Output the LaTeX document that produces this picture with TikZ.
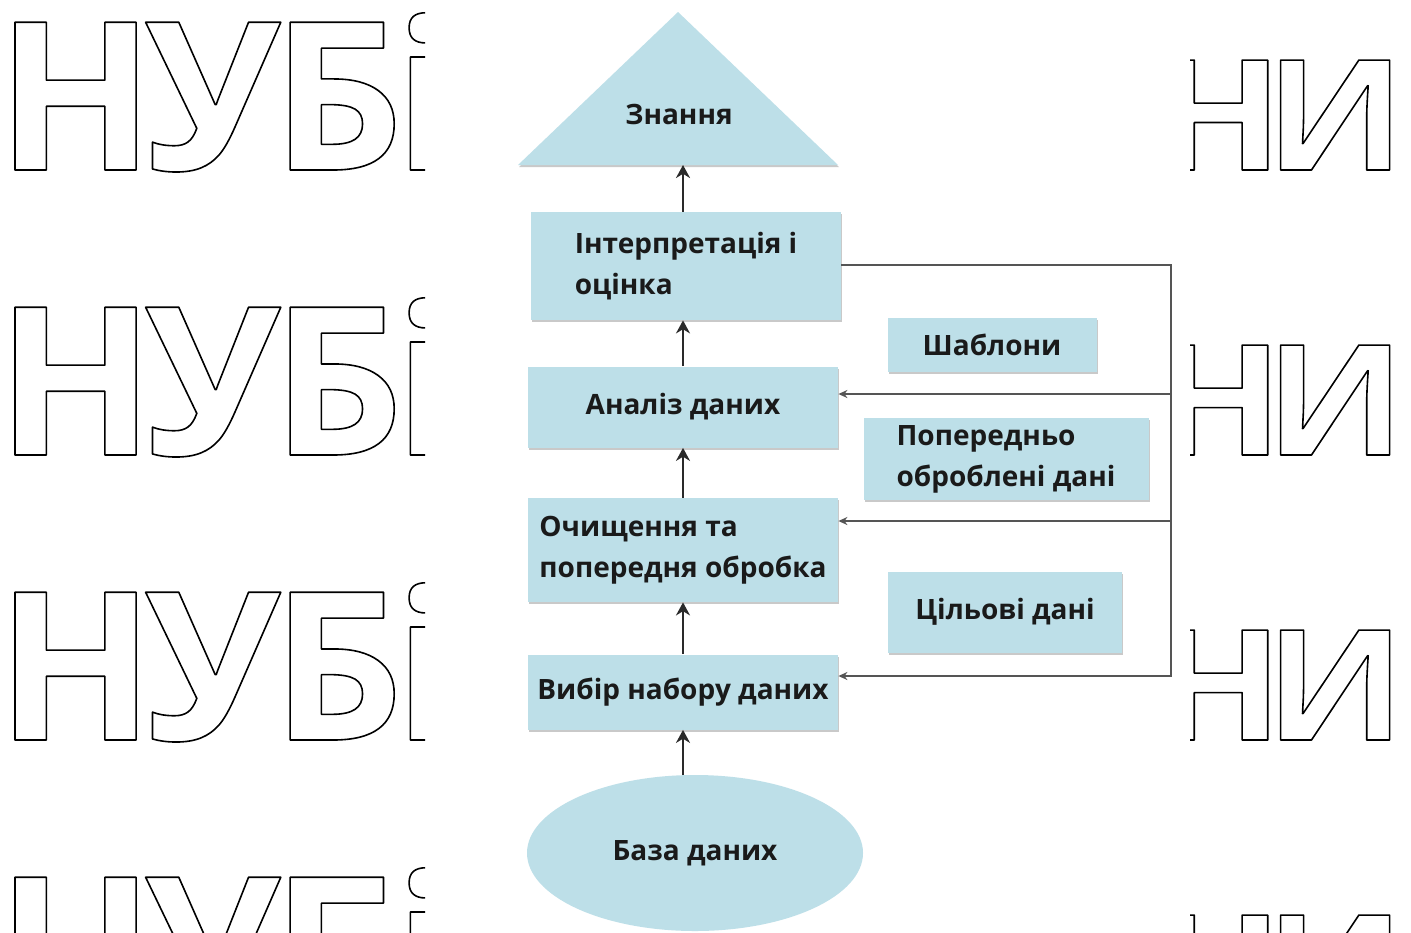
\documentclass[tikz,border=0pt]{standalone}
\usepackage{fontspec}
\setmainfont{Open Sans}
\newfontfamily\markfont{Open Sans}[LetterSpace=-4.5]
\newfontfamily\markwide{Open Sans}[FakeStretch=1.1,LetterSpace=-11.5]
\usetikzlibrary{arrows.meta,shapes.geometric,shadows}
\definecolor{boxblue}{HTML}{BDDFE8}
\definecolor{ink}{HTML}{1A1A1A}
\definecolor{arrowink}{HTML}{2A2A2A}
\definecolor{wire}{HTML}{555555}
% outlined (stroked, unfilled) glyphs with round joins
\newcommand\hollow[1]{\special{pdf:literal direct 1 Tr 0.8 w 1 j 1 J}#1\special{pdf:literal direct 0 Tr}}
\tikzset{
  stage/.style={rectangle, fill=boxblue, inner sep=0pt, text=ink,
    font=\bfseries\fontsize{14}{20.5}\selectfont,
    drop shadow={shadow xshift=0.6pt, shadow yshift=-1.2pt, opacity=0.35, fill=black!60}},
  upflow/.style={draw=arrowink, line width=1.4pt, -{Stealth[length=6.5pt,width=7pt]}},
  feedback/.style={draw=wire, line width=1pt},
  feedarrow/.style={feedback, -{Stealth[length=4.5pt,width=4pt]}},
  wm/.style={inner sep=0pt, text=black}
}
\begin{document}
\begin{tikzpicture}[x=0.5pt,y=-0.5pt]
\fill[white] (0,0) rectangle (1411,932);
\useasboundingbox (0,0) rectangle (1411,932);

% background lettering, left column
\begin{scope}
  \clip (0,0) rectangle (425,932);
  \foreach \b [count=\i] in {170,455,740,1025}
    \node[wm, anchor=base west] (wl\i) at (-4,\b)
      {\markfont\bfseries\fontsize{103.5}{110}\selectfont\hollow{НУБіП}};
\end{scope}
% background lettering, right column
\begin{scope}
  \clip (1190,0) rectangle (1411,932);
  \foreach \b [count=\i] in {170,455,740,1025}
    \node[wm, anchor=base west] (wr\i) at (1153,\b)
      {\markwide\bfseries\fontsize{77}{80}\selectfont\hollow{НИ}};
\end{scope}

% knowledge triangle
\fill[black!60, opacity=0.35] (679,14) -- (839,167) -- (519,167) -- cycle;
\fill[boxblue] (678,12) -- (838,165) -- (518,165) -- cycle;
\coordinate (tribase) at (683,165);
\node[text=ink, font=\bfseries\fontsize{14}{20.5}\selectfont] (know) at (679,114) {Знання};

% process chain (sizes in pt; one unit of the grid is 0.5pt)
\node[stage, minimum width=155pt, minimum height=54pt, align=left] (interp) at (686,266)
  {Інтерпретація і\\оцінка};
\node[stage, minimum width=155pt, minimum height=40.5pt] (analiz) at (683,407) {Аналіз даних};
\node[stage, minimum width=155pt, minimum height=52pt, align=left] (clean) at (683,550)
  {Очищення та\\попередня обробка};
\node[stage, minimum width=155pt, minimum height=37.5pt] (select) at (683,692) {Вибір набору даних};
\node[ellipse, fill=boxblue, inner sep=0pt, minimum width=168pt, minimum height=78pt,
  text=ink, font=\bfseries\fontsize{14}{20.5}\selectfont] (db) at (695,853) {База даних};

% intermediate products
\node[stage, minimum width=104.5pt, minimum height=27pt] (patt) at (992,345) {Шаблони};
\node[stage, minimum width=142.5pt, minimum height=41pt, align=left] (prep) at (1006,459)
  {Попередньо\\оброблені дані};
\node[stage, minimum width=117pt, minimum height=40.5pt] (target) at (1005,612) {Цільові дані};

% upward flow
\draw[upflow] (db.north -| select.south) -- (select.south);
\draw[upflow] (select.north) -- (clean.south);
\draw[upflow] (clean.north) -- (analiz.south);
\draw[upflow] (analiz.north) -- (interp.south -| analiz.north);
\draw[upflow] (interp.north -| analiz.north) -- (tribase);

% feedback loop
\coordinate (f1) at (1171,265);
\coordinate (f2) at (1171,394);
\coordinate (f3) at (1171,521);
\coordinate (f4) at (1171,676);
\draw[feedarrow] (interp.east |- f1) -- (f1) -- (f4) -- (select.east |- f4);
\draw[feedarrow] (f2) -- (analiz.east |- f2);
\draw[feedarrow] (f3) -- (clean.east |- f3);
\end{tikzpicture}
\end{document}
